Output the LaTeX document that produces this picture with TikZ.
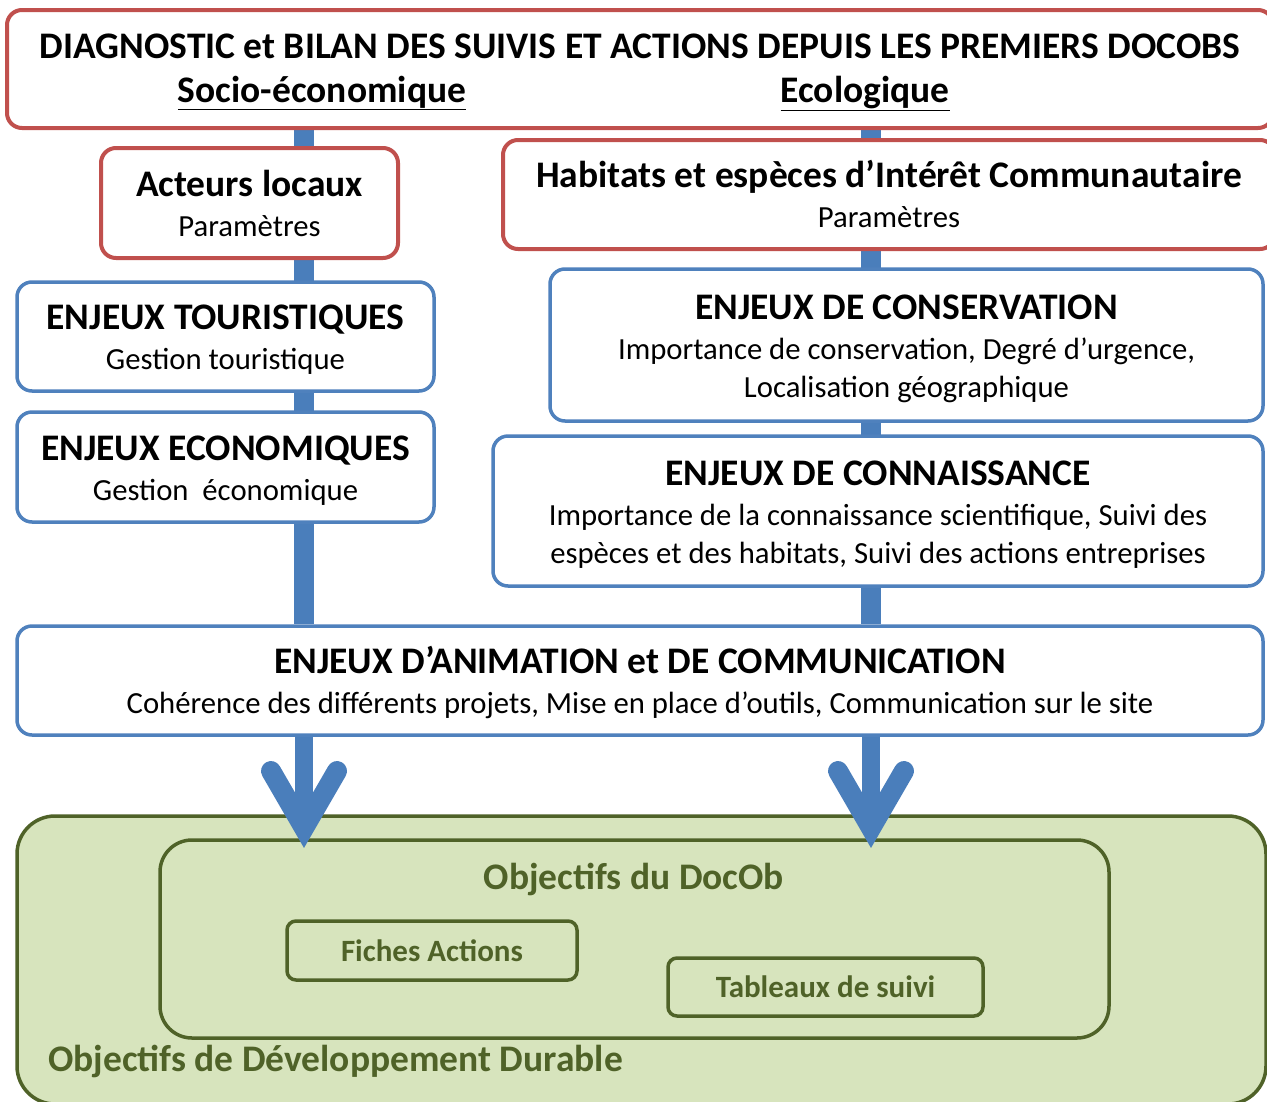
\documentclass[tikz,border=0pt]{standalone}
\usepackage{fontspec}
\setmainfont{Carlito}
\usetikzlibrary{calc,backgrounds}
\definecolor{redc}{HTML}{C0504D}
\definecolor{bluec}{HTML}{4F81BD}
\definecolor{barc}{HTML}{4A7EBB}
\definecolor{greenc}{HTML}{4F6228}
\definecolor{greenf}{HTML}{D7E4BD}
\newcommand\tfont{\fontsize{37.5}{41}\selectfont\bfseries}
\newcommand\subf{\fontsize{30.7}{38}\selectfont}
\newcommand\smallb{\fontsize{31}{36}\selectfont\bfseries}
\newcommand\tstrut{\rule{0pt}{36pt}}
\newcommand\bstrut{\rule[-10pt]{0pt}{1pt}}
\begin{document}
\begin{tikzpicture}[x=1pt,y=-1pt,
  box/.style={draw, fill=white, rounded corners=15pt, inner sep=0pt, align=center, font=\subf},
  redbox/.style={box, draw=redc, line width=4pt},
  bluebox/.style={box, draw=bluec, line width=3.5pt},
  gbox/.style={draw=greenc, fill=greenf, line width=3.5pt, inner sep=0pt},
  gtext/.style={text=greenc, font=\tfont, inner sep=0pt},
  bar/.style={draw=barc, line width=20pt},
  shaft/.style={draw=barc, line width=18pt},
  vhead/.style={draw=barc, line width=20pt, line cap=round, line join=miter},
]
\useasboundingbox (0,0) rectangle (1267,1101);

% top box
\node[redbox, minimum width=1266pt, minimum height=118pt] (top) at (640,69) {};
\node[font=\tfont, inner sep=0pt, anchor=base] (toptitle) at (640,58) {DIAGNOSTIC et BILAN DES SUIVIS ET ACTIONS DEPUIS LES PREMIERS DOCOBS};
\node[font=\tfont, inner sep=0pt, anchor=base] (socio) at (322,102) {\underline{Socio-économique}};
\node[font=\tfont, inner sep=0pt, anchor=base] (eco) at (865,102) {\underline{Ecologique}};

% left column
\node[redbox, minimum width=297pt, minimum height=110pt] (acteurs) at (249.5,203)
  {{\tfont\tstrut Acteurs locaux}\\[2pt]Paramètres\bstrut};
\node[bluebox, minimum width=417pt, minimum height=109pt] (tour) at (225.5,336.5)
  {{\tfont\tstrut ENJEUX TOURISTIQUES}\\[2pt]Gestion touristique\bstrut};
\node[bluebox, minimum width=417pt, minimum height=110pt] (econ) at (225.5,467)
  {{\tfont\tstrut ENJEUX ECONOMIQUES}\\[2pt]Gestion~ économique\bstrut};

% right column
\node[redbox, minimum width=772pt, minimum height=109pt] (habitats) at (889,194.5)
  {{\tfont\tstrut Habitats et espèces d’Intérêt Communautaire}\\[2pt]Paramètres\bstrut};
\node[bluebox, minimum width=713pt, minimum height=152pt] (conserv) at (906.5,345)
  {{\tfont\tstrut ENJEUX DE CONSERVATION}\\[2pt]Importance de conservation, Degré d’urgence,\\Localisation géographique\bstrut};
\node[bluebox, minimum width=770pt, minimum height=150pt] (connais) at (878,511)
  {{\tfont\tstrut ENJEUX DE CONNAISSANCE}\\[2pt]Importance de la connaissance scientifique, Suivi des\\espèces et des habitats, Suivi des actions entreprises\bstrut};

% animation
\node[bluebox, minimum width=1246pt, minimum height=109pt] (anim) at (640,680.5)
  {{\tfont\tstrut ENJEUX D’ANIMATION et DE COMMUNICATION}\\[2pt]Cohérence des différents projets, Mise en place d’outils, Communication sur le site\bstrut};

% green area
\node[gbox, rounded corners=38pt, minimum width=1249pt, minimum height=288pt] (dd) at (641.5,960) {};
\node[gbox, rounded corners=32pt, minimum width=949pt, minimum height=198pt] (docob) at (634.5,939) {};
\node[gtext] (docobt) at (634,879) {Objectifs du DocOb};
\node[gbox, rounded corners=9pt, minimum width=290pt, minimum height=59pt, text=greenc, font=\smallb] (fiches) at (432,950.5) {Fiches Actions};
\node[gbox, rounded corners=9pt, minimum width=315pt, minimum height=58pt, text=greenc, font=\smallb] (tableaux) at (825.5,987) {Tableaux de suivi};
\node[gtext, anchor=west] (ddt) at (48,1061) {Objectifs de Développement Durable};

% connectors
\coordinate (vL) at (304,828);
\coordinate (vR) at (871,828);
\begin{scope}[on background layer]
  \fill[white] (0,0) rectangle (1267,1101);
  \draw[bar] (top.south -| vL) -- (anim.north -| vL);
  \draw[bar] (top.south -| vR) -- (anim.north -| vR);
\end{scope}
\draw[shaft] (anim.south -| vL) -- (vL);
\draw[shaft] (anim.south -| vR) -- (vR);
\draw[vhead] ($(vL)+(-33,-57)$) -- (vL) -- ($(vL)+(33,-57)$);
\draw[vhead] ($(vR)+(-33,-57)$) -- (vR) -- ($(vR)+(33,-57)$);
\end{tikzpicture}
\end{document}
